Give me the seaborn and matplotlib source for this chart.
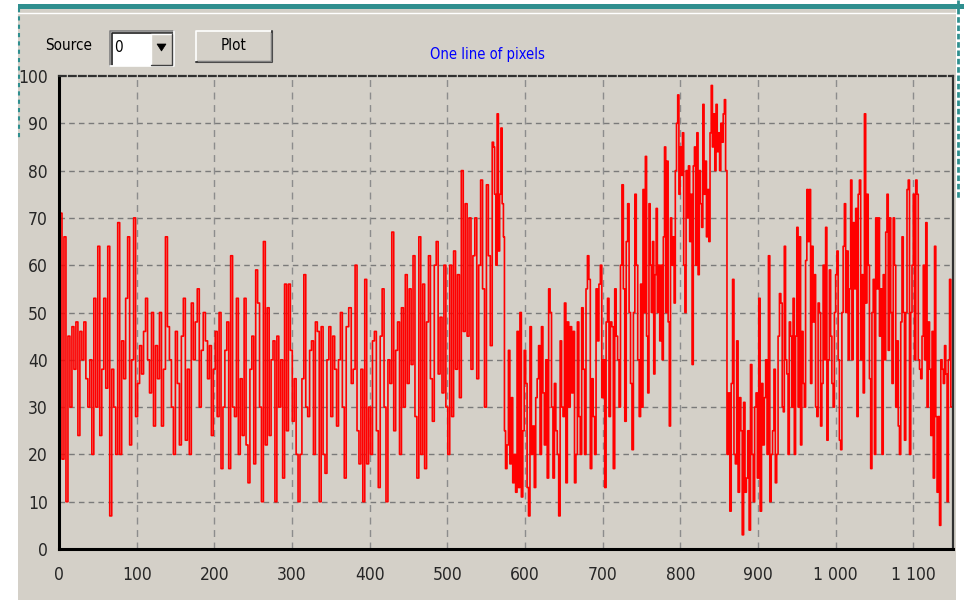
import numpy as np
import pandas as pd
import matplotlib
matplotlib.use("Agg")
import matplotlib.pyplot as plt
from matplotlib.patches import Rectangle, Polygon
import seaborn as sns

# ---------------- data ----------------
seg_a = [30, 71, 19, 66, 10, 45, 30, 47, 38, 48, 24, 46, 40, 48, 36, 30, 40, 20, 53, 30,
         64, 24, 38, 53, 34, 64, 7, 38, 30, 20, 69, 20, 44, 36, 53, 66, 22, 40,
         70, 28, 35, 43, 37, 46, 53, 40, 33, 50, 26, 43, 36, 50, 26, 38, 66, 47, 40, 30,
         20, 46, 35, 22, 45, 53, 23, 38, 20, 52, 40, 48, 55, 30, 42, 50]
seg_b = [44, 36, 43, 24, 38, 46, 28, 50, 17, 30, 42, 48, 17, 62, 30, 28, 53, 20, 36, 24,
         53, 22, 14, 38, 45, 18, 59, 52, 30, 10, 65, 22, 51, 24, 40, 44, 10, 45, 30, 40,
         15, 56, 25, 56, 42, 27, 36, 20, 10, 20, 36, 58, 30, 28, 42, 44, 20, 48, 46, 10,
         47, 20, 16, 40, 47, 28, 45, 38, 26, 40, 50, 30, 15, 47]
seg_c = [51, 35, 38, 60, 25, 18, 38, 10, 57, 18, 30, 20, 44, 46, 25, 13, 45, 55, 30, 10,
         40, 35, 67, 25, 42, 48, 20, 51, 30, 58, 35, 55, 39, 62, 28, 15, 66, 20, 56, 17,
         48, 62, 36, 27, 60, 65, 37, 49, 33, 60, 30, 20, 60, 28, 63, 38, 58, 32, 80, 46,
         73, 45, 70, 38, 62, 70, 36, 60, 78, 55, 30, 77, 62, 43, 86]
seg_d1 = [85, 75, 60, 92, 63, 75, 89, 73, 66]
seg_d2 = [25, 17, 22, 42, 18, 32, 14, 20, 12, 46, 13, 50, 11, 25, 42, 35, 13, 7, 47, 20,
          26, 13, 32, 36, 43, 20, 47, 33, 22, 40, 15, 55, 50, 30, 15, 35, 25, 20, 7, 44,
          30, 28, 52, 14, 48, 30, 47, 33, 46, 14, 20, 48, 28, 20, 51, 38, 20, 55, 62, 57,
          17, 36, 28, 20, 55, 44, 56, 60, 32, 40, 13, 48, 53, 28, 48, 47, 17, 55, 45, 40,
          30, 60, 77, 55, 27, 65, 73, 50, 35, 21, 50, 75, 60, 40]
seg_e1 = [28, 56, 30, 76, 50, 83, 45, 33, 73, 60, 50, 65, 37, 58, 72, 50, 60, 44, 60, 40,
          66, 85, 50, 82, 48, 26, 70, 60, 66, 52, 80, 90, 96, 75, 85, 79, 88, 60, 50, 80,
          70, 81, 65, 75, 39, 81, 85, 60, 88, 58, 80, 73, 68, 94, 75, 82, 66, 76, 65, 88,
          98, 85, 92, 80, 94, 84, 88, 80, 90, 86, 92, 95, 80]
seg_e2 = [20, 33, 8, 35, 57, 20, 18, 44, 12, 32, 25, 3, 31, 12, 15, 25, 4, 39, 20, 10,
          30, 33, 15, 53, 8, 35, 22, 32, 40, 20, 62, 10, 20, 25, 38, 14, 20, 45, 54, 52, 30]
seg_f = [29, 64, 40, 37, 20, 48, 45, 30, 53, 20, 45, 68, 30, 66, 22, 46, 35, 30, 61, 76,
         65, 76, 35, 64, 48, 58, 30, 28, 52, 50, 26, 35, 60, 40, 68, 23, 40, 59, 45, 35,
         30, 50, 58, 63, 40, 23, 21, 50, 64, 73, 50, 63, 40, 55, 78, 40, 69, 55, 72, 28,
         75, 78, 40, 58, 33, 92, 52, 75, 60, 36, 17, 50, 57, 20, 70, 55, 70, 45, 55, 20,
         58, 40, 67, 75, 42, 70, 50, 35, 70, 60, 30, 44, 26, 20, 48, 66, 50, 23, 50, 76,
         78, 20, 50, 60, 75, 40, 78, 75, 40, 38, 36, 45, 60, 40, 69, 30, 48, 38, 24, 46,
         15, 64, 28, 12, 28, 5, 40, 38, 35, 43, 37, 10, 40, 57, 30]

segments = [seg_a, seg_b, seg_c, seg_d1, seg_d2, seg_e1, seg_e2, seg_f]
seg_ranges = [(0, 187), (190, 371), (375, 559), (560, 573), (574, 746),
              (748, 859), (861, 932), (933, 1149)]

x_ticks = [0, 100, 200, 300, 400, 500, 600, 700, 800, 900, 1000, 1100]
x_tick_labels = ["0", "100", "200", "300", "400", "500", "600", "700", "800", "900",
                 "1 000", "1 100"]
y_ticks = [0, 10, 20, 30, 40, 50, 60, 70, 80, 90, 100]
title_text = "One line of pixels"
source_label = "Source"
source_value = "0"
button_label = "Plot"

xs, ys = [], []
for vals, (a, b) in zip(segments, seg_ranges):
    xs.extend(np.linspace(a, b, len(vals)))
    ys.extend(vals)
df = pd.DataFrame({"pixel": xs, "value": ys})

# ---------------- styling ----------------
sns.set_style("white")
FONT = ["DejaVu Sans", "Liberation Sans"]
plt.rcParams["font.family"] = FONT
plt.rcParams["font.stretch"] = "condensed"
UI = dict(fontsize=11, fontstretch="condensed")

W, H = 964, 600
PANEL = "#d4d0c8"
fig = plt.figure(figsize=(W / 100, H / 100), dpi=100, facecolor="white")

# background / window chrome in pixel coordinates
bg = fig.add_axes([0, 0, 1, 1], zorder=0)
bg.set_xlim(0, W)
bg.set_ylim(H, 0)
bg.axis("off")
bg.add_patch(Rectangle((18, 9), 938, 591, color=PANEL, lw=0))
bg.add_patch(Rectangle((18, 4), 946, 5, color="#2f8f8f", lw=0))
bg.plot([18, 956], [13, 13], color="white", lw=1.0)
bg.plot([18.5, 18.5], [8, 140], color="#2f8f8f", lw=1.5, ls=(0, (2, 2)))
bg.plot([957.5, 957.5], [0, 200], color="#2f8f8f", lw=2, ls=(0, (2, 1)))

# "Source" label
bg.text(92, 46, source_label, ha="right", va="center", color="black", **UI)
# combo box (sunken)
bg.add_patch(Rectangle((110, 31), 64, 35, facecolor="white", edgecolor="none"))
bg.plot([110, 110, 174], [66, 31, 31], color="#808080", lw=1.2)
bg.plot([111.5, 111.5, 173], [65, 32.5, 32.5], color="#202020", lw=1.2)
bg.plot([110, 174, 174], [66, 66, 31], color="white", lw=1.2)
bg.add_patch(Rectangle((151, 33.5), 21, 31, facecolor=PANEL, edgecolor="none"))
bg.plot([151, 151, 172], [64.5, 33.5, 33.5], color="white", lw=1)
bg.plot([151, 172, 172], [64.5, 64.5, 33.5], color="#404040", lw=1)
bg.add_patch(Polygon([[157, 44], [166, 44], [161.5, 51]], closed=True,
                     facecolor="black", edgecolor="black", lw=0.5))
bg.text(114, 47, source_value, ha="left", va="center", color="black", **UI)
# Plot button (raised)
bg.add_patch(Rectangle((196, 31), 76, 31, facecolor=PANEL, edgecolor="none"))
bg.plot([196, 196, 272], [62, 31, 31], color="white", lw=1.2)
bg.plot([196, 272, 272], [62, 62, 31], color="#404040", lw=1.5)
bg.plot([197.5, 270.5, 270.5], [60.5, 60.5, 32.5], color="#808080", lw=1)
bg.text(234, 45, button_label, ha="center", va="center", color="black", **UI)
# title
bg.text(487, 54, title_text, ha="center", va="center", color="#0000ff",
        fontsize=10.5, fontstretch="condensed")

# ---------------- plot area ----------------
L, R, T, B = 59, 953, 76, 549
ax = fig.add_axes([L / W, 1 - B / H, (R - L) / W, (B - T) / H], zorder=2)
ax.set_facecolor(PANEL)

sns.lineplot(data=df, x="pixel", y="value", ax=ax, color="#ff0000", lw=1.2,
             estimator=None, sort=False, legend=False, drawstyle="steps-mid")

ax.set_xlim(0, 1151)
ax.set_ylim(0, 100)
ax.set_xlabel("")
ax.set_ylabel("")
ax.set_xticks(x_ticks)
ax.set_xticklabels(x_tick_labels)
ax.set_yticks(y_ticks)
ax.set_xticks(np.arange(0, 1151, 25), minor=True)
ax.set_yticks(np.arange(0, 100.1, 2.5), minor=True)

for yv in y_ticks[1:-1]:
    ax.axhline(yv, color="#7a7a7a", lw=1.0, ls=(0, (4, 3)), zorder=0)
for xv in x_ticks[1:]:
    ax.axvline(xv, color="#8c8c8c", lw=1.0, ls=(0, (5, 4)), zorder=0)

for s in ["left", "bottom"]:
    ax.spines[s].set_color("black")
    ax.spines[s].set_linewidth(2.2)
ax.spines["top"].set_color("#303030")
ax.spines["top"].set_linewidth(1.6)
ax.spines["top"].set_linestyle((0, (3, 1.5)))
ax.spines["right"].set_color("#303030")
ax.spines["right"].set_linewidth(1.6)

ax.tick_params(axis="both", which="major", length=5, width=1, color="#808080",
               direction="out", labelsize=12.5, pad=3)
ax.tick_params(axis="x", which="major", pad=7)
ax.tick_params(axis="both", which="minor", length=2.5, width=1, color="#404040",
               direction="out")
for lab in ax.get_xticklabels() + ax.get_yticklabels():
    lab.set_fontstretch("condensed")

fig.savefig("out.png", dpi=100, facecolor="white")
